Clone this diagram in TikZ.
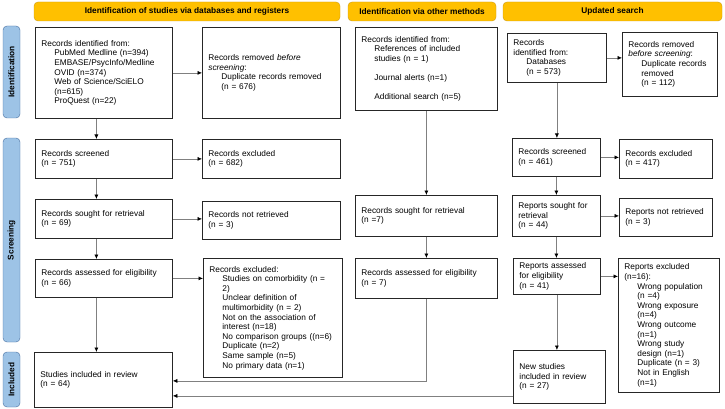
\documentclass[tikz,border=0pt]{standalone}
\usepackage{fontspec}
\setmainfont{Liberation Sans}
\usepackage{tikz}
\usetikzlibrary{arrows.meta}

\definecolor{hdrfill}{RGB}{255,192,0}
\definecolor{hdrline}{RGB}{205,155,20}
\definecolor{sidefill}{RGB}{157,195,230}
\definecolor{sideline}{RGB}{70,110,160}
\definecolor{conngray}{RGB}{128,128,128}
\newcommand{\ind}{\hspace*{13pt}}

\begin{document}
\begin{tikzpicture}[x=1pt, y=-1pt, font=\fontsize{8.3}{9.6}\selectfont,
	box/.style 2 args={draw=black!85, line width=0.8pt, anchor=north west, align=left, inner xsep=6pt, inner ysep=1pt, text width=#1, minimum height=#2},
	hdr/.style={draw=hdrline, fill=hdrfill, rounded corners=4pt, minimum height=19pt, font=\fontsize{8.3}{9.6}\selectfont\bfseries},
	side/.style={draw=sideline, fill=sidefill, rounded corners=4pt, rotate=90, minimum height=17pt, font=\fontsize{8.3}{9.6}\selectfont\bfseries},
	conn/.style={draw=conngray, line width=0.6pt, -{Latex[black,length=4.5pt,width=4pt]}}]
	\useasboundingbox (0,0) rectangle (725,409);

	\node[hdr, minimum width=306pt] (h1) at (187,11.5) {Identification of studies via databases and registers};
	\node[hdr, minimum width=148pt] (h2) at (422,11.5) {Identification via other methods};
	\node[hdr, minimum width=219pt] (h3) at (612.5,11.5) {Updated search};

	\node[side, minimum width=92pt] (s1) at (11.5,72) {Identification};
	\node[side, minimum width=204pt] (s2) at (11.5,240) {Screening};
	\node[side, minimum width=55pt] (s3) at (11.5,379.5) {Included};

	\node[box={125pt}{91pt}] (a1) at (35,27) {Records identified from:\\ \ind PubMed Medline (n=394)\\ \ind EMBASE/PsycInfo/Medline\\ \ind OVID (n=374)\\ \ind Web of Science/SciELO\\ \ind (n=615)\\ \ind ProQuest (n=22)};
	\node[box={126pt}{91pt}] (a2) at (202,27) {Records removed \textit{before}\\ \textit{screening}:\\ \ind Duplicate records removed\\ \ind (n = 676)};
	\node[box={125pt}{39pt}] (b1) at (35,139) {Records screened\\ (n = 751)};
	\node[box={126pt}{39pt}] (b2) at (202,139) {Records excluded\\ (n = 682)};
	\node[box={125pt}{39pt}] (c1) at (35,199) {Records sought for retrieval\\ (n = 69)};
	\node[box={126pt}{38pt}] (c2) at (202,201) {Records not retrieved\\ (n = 3)};
	\node[box={125pt}{38pt}] (d1) at (35,259) {Records assessed for eligibility\\ (n = 66)};
	\node[box={127pt}{119pt}] (d2) at (203,258) {Records excluded:\\ \ind Studies on comorbidity (n =\\ \ind 2)\\ \ind Unclear definition of\\ \ind multimorbidity (n = 2)\\ \ind Not on the association of\\ \ind interest (n=18)\\ \ind No comparison groups ((n=6)\\ \ind Duplicate (n=2)\\ \ind Same sample (n=5)\\ \ind No primary data (n=1)};
	\node[box={126pt}{55pt}] (e1) at (34,352) {Studies included in review\\ (n = 64)};

	\node[box={130pt}{83pt}] (m1) at (355,27) {Records identified from:\\ \ind References of included\\ \ind studies (n = 1)\\[9.6pt] \ind Journal alerts (n=1)\\[9.6pt] \ind Additional search (n=5)};
	\node[box={130pt}{41pt}] (m2) at (355,195) {Records sought for retrieval\\ (n =7)};
	\node[box={130pt}{40pt}] (m3) at (355,258) {Records assessed for eligibility\\ (n = 7)};

	\node[box={87pt}{49pt}] (r1) at (507,33) {Records\\ identified from:\\ \ind Databases\\ \ind (n = 573)};
	\node[box={83pt}{64pt}] (r2) at (622,32) {Records removed\\ \textit{before screening}:\\ \ind Duplicate records\\ \ind removed\\ \ind (n = 112)};
	\node[box={76pt}{38pt}] (r3) at (512,138) {Records screened\\ (n = 461)};
	\node[box={81pt}{39pt}] (r4) at (619,139) {Records excluded\\ (n = 417)};
	\node[box={76pt}{41pt}] (r5) at (512,195) {Reports sought for\\ retrieval\\ (n = 44)};
	\node[box={81pt}{38pt}] (r6) at (619,198) {Reports not retrieved\\ (n = 3)};
	\node[box={75pt}{36pt}] (r7) at (513,258) {Reports assessed\\ for eligibility\\ (n = 41)};
	\node[box={89pt}{134pt}] (r8) at (618,258) {Reports excluded\\ (n=16):\\ \ind Wrong population\\ \ind (n =4)\\ \ind Wrong exposure\\ \ind (n=4)\\ \ind Wrong outcome\\ \ind (n=1)\\ \ind Wrong study\\ \ind design (n=1)\\ \ind Duplicate (n = 3)\\ \ind Not in English\\ \ind (n=1)};
	\node[box={80pt}{53pt}] (r9) at (513,350) {New studies\\ included in review\\ (n = 27)};

	\draw[conn] (a1.east) -- (a2.west);
	\draw[conn] ([xshift=-7.5pt]a1.south) -- ([xshift=-7.5pt]b1.north);
	\draw[conn] (b1.east) -- (b2.west);
	\draw[conn] ([xshift=-7.5pt]b1.south) -- ([xshift=-7.5pt]c1.north);
	\draw[conn] (c1.east) -- (c1.east -| c2.west);
	\draw[conn] ([xshift=-7.5pt]c1.south) -- ([xshift=-7.5pt]d1.north);
	\draw[conn] (d1.east) -- (d1.east -| d2.west);
	\draw[conn] ([xshift=-7.5pt]d1.south) -- ([xshift=-7.5pt]d1.south |- e1.north);

	\draw[conn] (m1.south) -- (m2.north);
	\draw[conn] (m2.south) -- (m3.north);
	\draw[conn] (m3.south) |- ([yshift=-1pt]e1.east);

	\draw[conn] (r1.east) -- (r1.east -| r2.west);
	\draw[conn] (r1.south) -- (r1.south |- r3.north);
	\draw[conn] (r3.east) -- (r3.east -| r4.west);
	\draw[conn] (r3.south) -- (r3.south |- r5.north);
	\draw[conn] (r5.east) -- (r5.east -| r6.west);
	\draw[conn] (r5.south) -- (r5.south |- r7.north);
	\draw[conn] (r7.east) -- (r7.east -| r8.west);
	\draw[conn] (r7.south) -- (r7.south |- r9.north);
	\draw[conn] ([yshift=-19pt]r9.west) -- ([yshift=-19pt]r9.west -| e1.east);
\end{tikzpicture}
\end{document}
